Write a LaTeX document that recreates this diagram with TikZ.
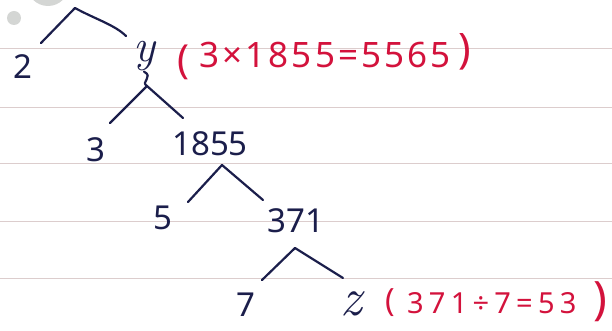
\documentclass[tikz,border=0pt]{standalone}
\usepackage{fontspec}
\setmainfont{Noto Sans}
\newfontfamily\varfont{Latin Modern Roman}
\definecolor{ink}{HTML}{1B1E4B}
\definecolor{redink}{HTML}{D3123C}
\definecolor{rulecol}{HTML}{DCCDCD}
\definecolor{markcol}{HTML}{D4D6D4}
\tikzset{
  num/.style={inner sep=0pt, text=ink, font=\fontsize{33}{33}\selectfont},
  varname/.style={inner sep=0pt, text=ink, font=\varfont\itshape\fontsize{46}{46}\selectfont},
  branch/.style={draw=ink, line width=2.2pt, line cap=round, line join=round},
  note/.style={inner sep=0pt, text=redink, anchor=west},
  paren/.style={inner sep=0pt, text=redink},
  ruling/.style={draw=rulecol, line width=0.9pt},
}
\begin{document}
\begin{tikzpicture}[x=1pt,y=-1pt]
\useasboundingbox (0,0) rectangle (612,331);
\fill[white] (0,0) rectangle (612,331);
\foreach \yy in {48,107,163,221,278} \draw[ruling] (0,\yy) -- (612,\yy);
\fill[markcol] (48,-15) circle (21);
\fill[markcol] (14,18) circle (7);

% numbers
\node[num] (n2) at (23,67) {2};
\node[varname, anchor=base] (ny) at (144,62) {y};
\node[num] (n3) at (96,150) {3};
\node[num] (n1855) at (210,144) {1855};
\node[num] (n5) at (163,218) {5};
\node[num] (n371) at (296,221) {371};
\node[num] (n7) at (246,305) {7};
\node[varname, anchor=base, font=\varfont\itshape\fontsize{54}{54}\selectfont] (nz) at (351,315) {z};

% red notes
\node[paren, font=\fontsize{40}{40}\selectfont] (p1l) at (183,62) {(};
\node[note, font=\fontsize{35}{35}\selectfont\addfontfeature{LetterSpace=9}] (t1) at (199,55) {3×1855=5565};
\node[paren, font=\fontsize{42}{42}\selectfont] (p1r) at (465,52) {)};
\node[paren, font=\fontsize{32}{32}\selectfont] (p2l) at (390,303) {(};
\node[note, font=\fontsize{29}{29}\selectfont\addfontfeature{LetterSpace=18}] (t2) at (407,303) {371÷7=53};
\node[paren, font=\fontsize{46}{46}\selectfont] (p2r) at (600,302) {)};

% branch points
\coordinate (top) at (75,8);
\coordinate (e2) at (41,43);
\coordinate (ey) at (126,36);
\coordinate (yj) at (147,86);
\coordinate (e3) at (110,123);
\coordinate (e1855) at (183,118);
\coordinate (ap2) at (222,165);
\coordinate (e5) at (188,202);
\coordinate (e371) at (263,200);
\coordinate (ap3) at (295,248);
\coordinate (e7) at (262,280);
\coordinate (ez) at (343,278);

\draw[branch] (top) -- (e2);
\draw[branch] (top) .. controls (95,19) and (115,25) .. (ey);
\draw[branch] (ny.south) .. controls (154,77) and (140,82) .. (yj);
\draw[branch] (yj) -- (e3);
\draw[branch] (yj) -- (e1855);
\draw[branch] (ap2) -- (e5);
\draw[branch] (ap2) -- (e371);
\draw[branch] (ap3) -- (e7);
\draw[branch] (ap3) -- (ez);
\end{tikzpicture}
\end{document}
